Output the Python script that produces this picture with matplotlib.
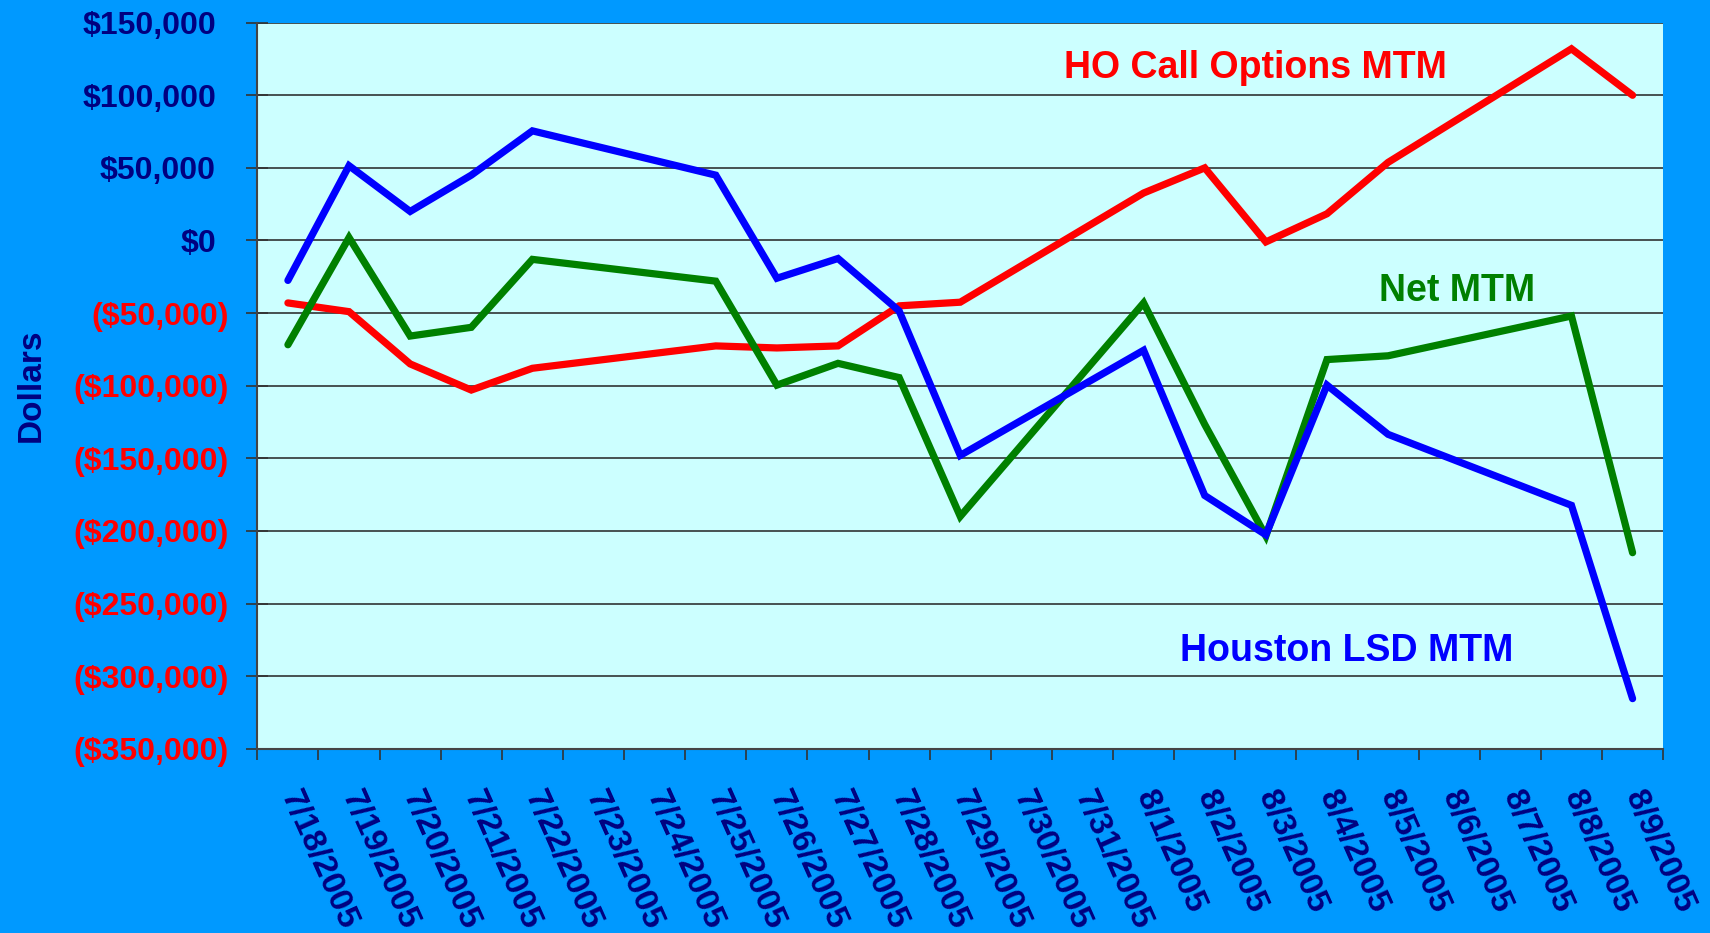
import numpy as np
import matplotlib
matplotlib.use('Agg')
import matplotlib.pyplot as plt
from matplotlib.transforms import ScaledTranslation, blended_transform_factory

plt.rcParams['font.family'] = ['Liberation Sans', 'DejaVu Sans']
plt.rcParams['font.weight'] = 'bold'

# data (weekends have no value)
nan = np.nan
dates = ['7/18/2005', '7/19/2005', '7/20/2005', '7/21/2005', '7/22/2005', '7/23/2005',
         '7/24/2005', '7/25/2005', '7/26/2005', '7/27/2005', '7/28/2005', '7/29/2005',
         '7/30/2005', '7/31/2005', '8/1/2005', '8/2/2005', '8/3/2005', '8/4/2005',
         '8/5/2005', '8/6/2005', '8/7/2005', '8/8/2005', '8/9/2005']
houston_lsd = [-27500, 51500, 20000, 45000, 75500, nan, nan, 45000, -26000, -12400, -48500,
               -148000, nan, nan, -75600, -175600, -202700, -99600, -133500, nan, nan,
               -182400, -315500]
ho_call = [-43000, -49000, -85000, -103000, -88000, nan, nan, -72600, -74000, -72600, -45000,
           -42500, nan, nan, 32700, 50000, -1000, 18400, 53800, nan, nan, 132000, 100000]
net_mtm = [-71800, 2000, -65800, -59800, -13000, nan, nan, -28000, -99600, -84600, -94400,
           -190000, nan, nan, -43000, -126700, -203500, -82000, -79400, nan, nan, -52000,
           -215000]
y_ticks = list(range(-350000, 150001, 50000))

navy = '#000080'
fig = plt.figure(figsize=(17.1, 9.33), dpi=100, facecolor='#0099FF')
ax = fig.add_axes([0.1505, 0.1975, 0.8221, 0.7782])
ax.set_facecolor('#CCFFFF')

x = np.arange(len(dates))


def draw(vals, color):
    v = np.array(vals, dtype=float)
    ok = ~np.isnan(v)
    ax.plot(x[ok], v[ok], color=color, lw=5.2, solid_joinstyle='miter', solid_capstyle='round', zorder=3)


draw(ho_call, '#FF0000')
draw(net_mtm, '#008000')
draw(houston_lsd, '#0000FF')

ax.set_xlim(-0.5, len(dates) - 0.5)
ax.set_ylim(-350000, 150000)
ax.set_yticks(y_ticks)
ax.grid(axis='y', color='#222222', lw=1.1, zorder=1)
ax.tick_params(axis='y', direction='inout', length=16, width=1.2, color='#333333', labelleft=False)


def money(v):
    if v < 0:
        return '(${:,})'.format(-v)
    return '${:,}'.format(v)


# accounting style labels: positives leave room for the ")"
ytrans = blended_transform_factory(ax.transAxes, ax.transData)
for v in y_ticks:
    if v < 0:
        col, dx = '#FF0000', -0.284
    else:
        col, dx = navy, -0.414
    ax.text(0, v, money(v), color=col, fontsize=23, fontweight='bold', ha='right',
            va='center_baseline',
            transform=ytrans + ScaledTranslation(dx, 0, fig.dpi_scale_trans), clip_on=False)

ax.set_xticks(x)
ax.set_xticklabels(dates, rotation=-66, ha='left', va='center', rotation_mode='anchor',
                   fontsize=24, fontweight='bold', color=navy)
ax.set_xticks(np.arange(-0.5, len(dates)), minor=True)
ax.tick_params(axis='x', which='major', length=0, pad=31)
ax.tick_params(axis='x', which='minor', direction='out', length=8, width=1.2, color='#333333')

for s in ['top', 'right']:
    ax.spines[s].set_visible(False)
for s in ['left', 'bottom']:
    ax.spines[s].set_color('#444444')
    ax.spines[s].set_linewidth(1.5)

ax.set_ylabel('Dollars', fontsize=24, fontweight='bold', color=navy)
ax.yaxis.set_label_coords(-0.150, 0.5)

ax.text(15.83, 119000, 'HO Call Options MTM', color='#FF0000', fontsize=27, fontweight='bold',
        ha='center', va='center')
ax.text(19.13, -35000, 'Net MTM', color='#008000', fontsize=27, fontweight='bold',
        ha='center', va='center')
ax.text(17.33, -283000, 'Houston LSD MTM', color='#0000FF', fontsize=27, fontweight='bold',
        ha='center', va='center')

fig.savefig('out.png', dpi=100, facecolor=fig.get_facecolor())
